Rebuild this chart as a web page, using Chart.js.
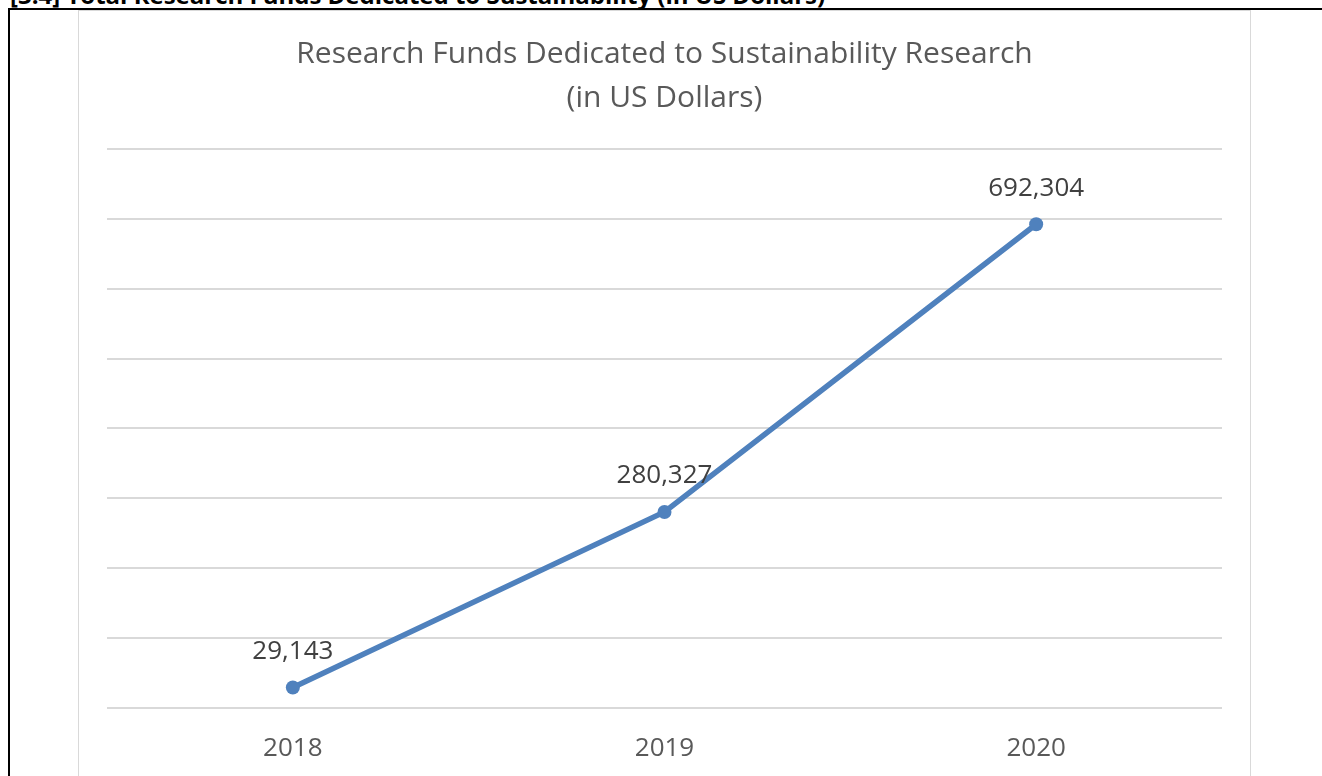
<!DOCTYPE html>
<html>
<head>
<meta charset="utf-8">
<script src="https://cdn.jsdelivr.net/npm/chart.js@4"></script>
<style>
  html, body { margin: 0; padding: 0; background: #fff; overflow: hidden; }
  body { width: 1322px; height: 776px; position: relative; font-family: "Open Sans", sans-serif; }
  #heading {
    position: absolute; left: 10px; top: -17px; white-space: nowrap;
    font: bold 24px/24px "Open Sans", sans-serif; color: #000;
  }
  #cell {
    position: absolute; left: 8px; top: 8px; right: -10px; bottom: -10px;
    border-left: 2px solid #000; border-top: 2px solid #000;
  }
  #frame {
    position: absolute; left: 78px; top: 10px; width: 1171px; height: 800px;
    border: 1.5px solid #d9d9d9;
  }
  #wrap { position: absolute; left: 80px; top: 12px; width: 1169px; height: 793px; }
</style>
</head>
<body>
<div id="heading">[3.4] Total Research Funds Dedicated to Sustainability (in US Dollars)</div>
<div id="cell"></div>
<div id="frame"></div>
<div id="wrap"><canvas id="fundsChart"></canvas></div>
<script>
// datos del grafico
const years = ['2018', '2019', '2020'];
const funds = [29143, 280327, 692304];
const chartTitle = ['Research Funds Dedicated to Sustainability Research', '(in US Dollars)'];

const fontFamily = '"Open Sans", sans-serif';

// etiquetas de valor encima de cada punto
const valueLabels = {
    id: 'valueLabels',
    afterDatasetsDraw(chart) {
        const ctx = chart.ctx;
        const meta = chart.getDatasetMeta(0);
        ctx.save();
        ctx.font = '26px ' + fontFamily;
        ctx.fillStyle = '#404040';
        ctx.textAlign = 'center';
        ctx.textBaseline = 'middle';
        meta.data.forEach((pt, i) => {
            const v = chart.data.datasets[0].data[i];
            ctx.fillText(v.toLocaleString('en-US'), pt.x, pt.y - 36);
        });
        ctx.restore();
    }
};

const ctx = document.getElementById('fundsChart').getContext('2d');
new Chart(ctx, {
    type: 'line',
    data: {
        labels: years,
        datasets: [{
            label: 'Funds',
            data: funds,
            borderColor: '#4f81bd',
            backgroundColor: '#4f81bd',
            borderWidth: 5.5,
            borderCapStyle: 'round',
            tension: 0,
            pointRadius: 7,
            pointHoverRadius: 7,
            pointBackgroundColor: '#4f81bd',
            pointBorderWidth: 0
        }]
    },
    options: {
        responsive: true,
        maintainAspectRatio: false,
        animation: false,
        layout: { padding: { left: 27, right: 27, top: 0, bottom: 16 } },
        plugins: {
            legend: { display: false },
            tooltip: { enabled: false },
            title: {
                display: true,
                text: chartTitle,
                color: '#595959',
                font: { family: fontFamily, size: 30, weight: 'normal', lineHeight: '44px' },
                padding: { top: 20, bottom: 29 }
            }
        },
        scales: {
            x: {
                offset: true,
                grid: { display: false, drawTicks: false },
                border: { display: false },
                ticks: { color: '#595959', padding: 25, font: { family: fontFamily, size: 26 } }
            },
            y: {
                min: 0,
                max: 800000,
                ticks: { display: false, stepSize: 100000 },
                grid: { color: '#d9d9d9', lineWidth: 2, drawTicks: false },
                border: { display: false }
            }
        }
    },
    plugins: [valueLabels]
});
</script>
</body>
</html>
